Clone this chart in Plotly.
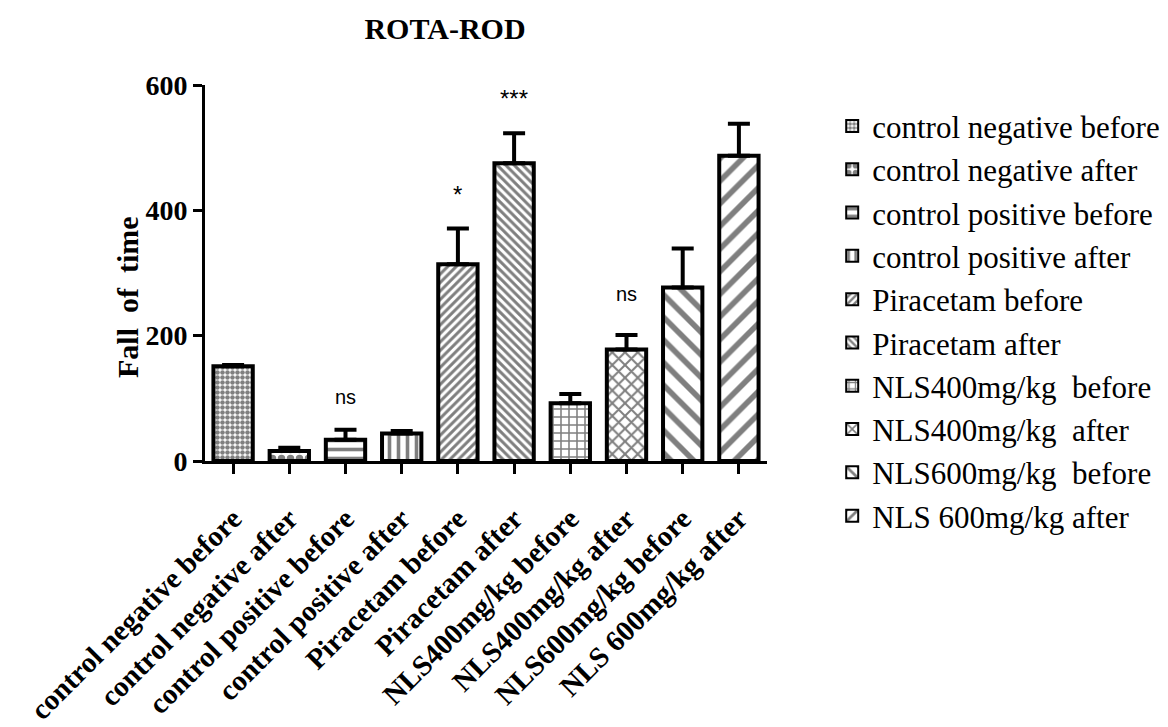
import plotly.graph_objects as go

categories = ["control negative before", "control negative after", "control positive before",
              "control positive after", "Piracetam before", "Piracetam after",
              "NLS400mg/kg  before", "NLS400mg/kg  after", "NLS600mg/kg  before", "NLS 600mg/kg after"]
tick_labels = ["control negative before", "control negative after", "control positive before",
               "control positive after", "Piracetam before", "Piracetam after",
               "NLS400mg/kg before", "NLS400mg/kg after", "NLS600mg/kg before", "NLS 600mg/kg after"]
means = [151, 16, 34, 44, 314, 475, 92, 178, 277, 487]
errors = [2, 5, 16, 4, 57, 48, 15, 23, 62, 51]
sig_labels = ["", "", "ns", "", "*", "***", "", "ns", "", "***"]
sig_y = [None, None, 102, None, 426, 578, None, 267, None, 608]

patterns = [
    dict(shape=".", size=5, solidity=0.65),
    dict(shape=".", size=9, solidity=0.55),
    dict(shape="-", size=9, solidity=0.4),
    dict(shape="|", size=9, solidity=0.4),
    dict(shape="/", size=6, solidity=0.5),
    dict(shape="\\", size=6, solidity=0.5),
    dict(shape="+", size=8, solidity=0.35),
    dict(shape="x", size=9, solidity=0.4),
    dict(shape="\\", size=16, solidity=0.35),
    dict(shape="/", size=16, solidity=0.35),
]

SERIF = "Liberation Serif, Times New Roman"

fig = go.Figure()
for i, cat in enumerate(categories):
    p = patterns[i]
    fig.add_trace(go.Bar(
        x=[tick_labels[i]], y=[means[i]], name=cat, legendgroup=f"g{i}",
        width=0.7,
        marker=dict(color="white", line=dict(color="black", width=4),
                    pattern=dict(shape=p["shape"], size=p["size"], solidity=p["solidity"],
                                 fgcolor="black", bgcolor="white", fillmode="overlay")),
        error_y=dict(type="data", symmetric=False, array=[errors[i]], arrayminus=[0],
                     color="black", thickness=4, width=11),
    ))

for i, lab in enumerate(sig_labels):
    if lab:
        fig.add_annotation(x=tick_labels[i], y=sig_y[i], text=lab, showarrow=False,
                           font=dict(family="Liberation Sans, Arial", size=24 if "*" in lab else 20,
                                     color="black"))

fig.add_annotation(text="<b>Fall  of  time</b>", textangle=-90, showarrow=False,
                   xref="paper", yref="paper", x=(127 - 205) / 562, y=(461 - 297) / 376,
                   xanchor="center", yanchor="middle",
                   font=dict(family=SERIF, size=30, color="black"))

fig.update_layout(
    width=1168, height=727,
    margin=dict(l=205, r=401, t=85, b=266, autoexpand=False),
    plot_bgcolor="white", paper_bgcolor="white",
    barmode="overlay",
    showlegend=True,
    title=dict(text="<b>ROTA-ROD</b>", x=445/1168, xanchor="center", y=1-28/727, yanchor="middle",
               xref="container", yref="container",
               font=dict(family=SERIF, size=30, color="black")),
    legend=dict(x=1.116, xanchor="left", y=0.962, yanchor="top", tracegroupgap=0,
                font=dict(family=SERIF, size=31, color="black"), maxheight=700,
                bgcolor="rgba(0,0,0,0)", itemsizing="constant"),
    font=dict(family=SERIF, color="black"),
)
fig.update_xaxes(
    type="category", range=[-0.5, 9.5], categoryorder="array", categoryarray=tick_labels,
    showline=True, linecolor="black", linewidth=3, ticks="outside", ticklen=10, tickwidth=3,
    tickcolor="black", tickangle=-45, showgrid=False, zeroline=False, automargin=False,
    ticklabelstandoff=16,
    tickfont=dict(family=SERIF, size=29, color="black"),
    ticktext=[f"<b>{t}</b>" for t in tick_labels], tickvals=tick_labels,
)
fig.update_yaxes(
    range=[0, 600], tickvals=[0, 200, 400, 600], ticktext=["<b>0</b>", "<b>200</b>", "<b>400</b>", "<b>600</b>"],
    showline=True, linecolor="black", linewidth=3, ticks="outside", ticklen=9, tickwidth=3,
    tickcolor="black", showgrid=False, zeroline=False, automargin=False,
    tickfont=dict(family=SERIF, size=28, color="black"),
)

fig.write_html("out.html", config={"displayModeBar": False})
with open("out.html", "r", encoding="utf-8") as f:
    html = f.read()
html = html.replace("<head>", "<head><style>html,body{margin:0;padding:0;overflow:hidden;}</style>", 1)
with open("out.html", "w", encoding="utf-8") as f:
    f.write(html)
